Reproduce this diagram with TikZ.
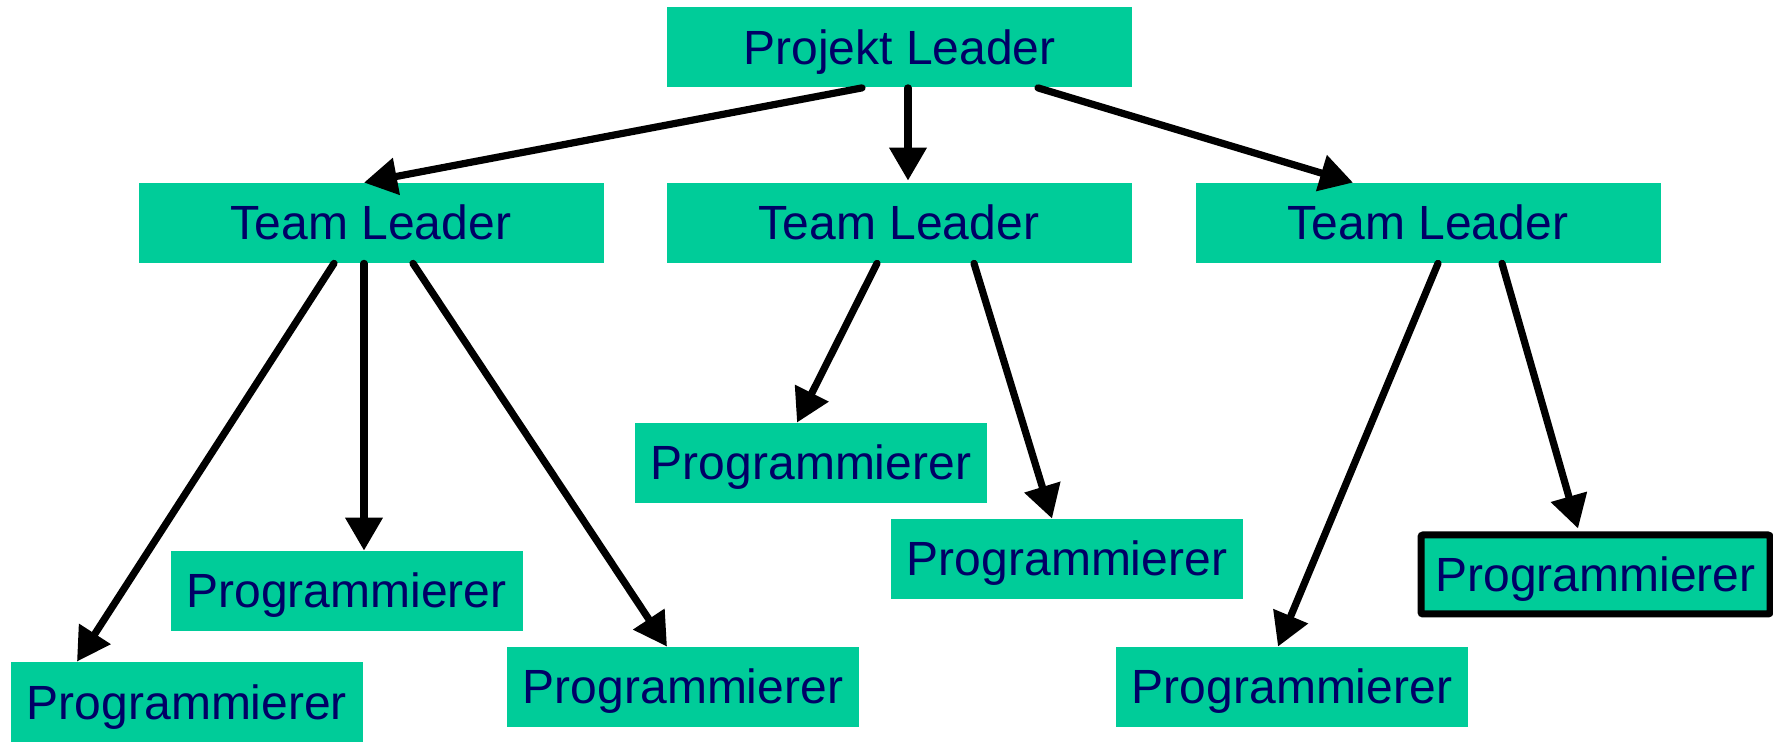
\documentclass[tikz,border=0pt]{standalone}
\usepackage{fontspec}
\setmainfont{Liberation Sans}
\usetikzlibrary{arrows.meta,calc}
\definecolor{boxgreen}{HTML}{00CC99}
\definecolor{navytext}{HTML}{000066}
\begin{document}
\begin{tikzpicture}[x=0.5pt,y=-0.5pt,
  box/.style={fill=boxgreen,text=navytext,inner sep=0pt,font=\fontsize{24pt}{28pt}\selectfont,
    text height=17pt,text depth=0pt,minimum height=40pt},
  lead/.style={box,minimum width=232.5pt},
  prog/.style={box,minimum width=176pt},
  conn/.style={line width=3.6pt,line cap=round,-{Triangle[length=16.5pt,width=18pt]}}]
\useasboundingbox (0,0) rectangle (1773,742);
\node[lead] (pl) at (899.5,47.5) {Projekt Leader};
\node[lead] (tl1) at (371,223) {Team Leader};
\node[lead] (tl2) at (899,223) {Team Leader};
\node[lead] (tl3) at (1428,223) {Team Leader};
\node[prog] (p11) at (187,702) {Programmierer};
\node[prog] (p12) at (346.5,591) {Programmierer};
\node[prog] (p13) at (683,687) {Programmierer};
\node[prog] (p21) at (811,463) {Programmierer};
\node[prog] (p22) at (1067,559) {Programmierer};
\node[prog] (p31) at (1292,687) {Programmierer};
\node[prog,draw=black,line width=3.5pt,minimum width=174.5pt,minimum height=39.5pt,rounded corners=1pt] (p32) at (1595.5,574.5) {Programmierer};
\draw[conn] ($(pl.south)+(-37.5,0)$) -- ($(tl1.north)+(-7,0)$);
\draw[conn] ($(pl.south)+(8.5,0)$) -- ($(tl2.north)+(9,-2)$);
\draw[conn] ($(pl.south)+(138.5,0)$) -- ($(tl3.north)+(-75,0)$);
\draw[conn] ($(tl1.south)+(-37,0)$) -- ($(p11.north)+(-110,0)$);
\draw[conn] ($(tl1.south)+(-7,0)$) -- ($(p12.north)+(17.5,0)$);
\draw[conn] ($(tl1.south)+(42,0)$) -- ($(p13.north)+(-16,0)$);
\draw[conn] ($(tl2.south)+(-22,0)$) -- ($(p21.north)+(-14,0)$);
\draw[conn] ($(tl2.south)+(75,0)$) -- ($(p22.north)+(-15,0)$);
\draw[conn] ($(tl3.south)+(10,0)$) -- ($(p31.north)+(-14,0)$);
\draw[conn] ($(tl3.south)+(74,0)$) -- ($(p32.north)+(-17.5,-3)$);
\end{tikzpicture}
\end{document}
